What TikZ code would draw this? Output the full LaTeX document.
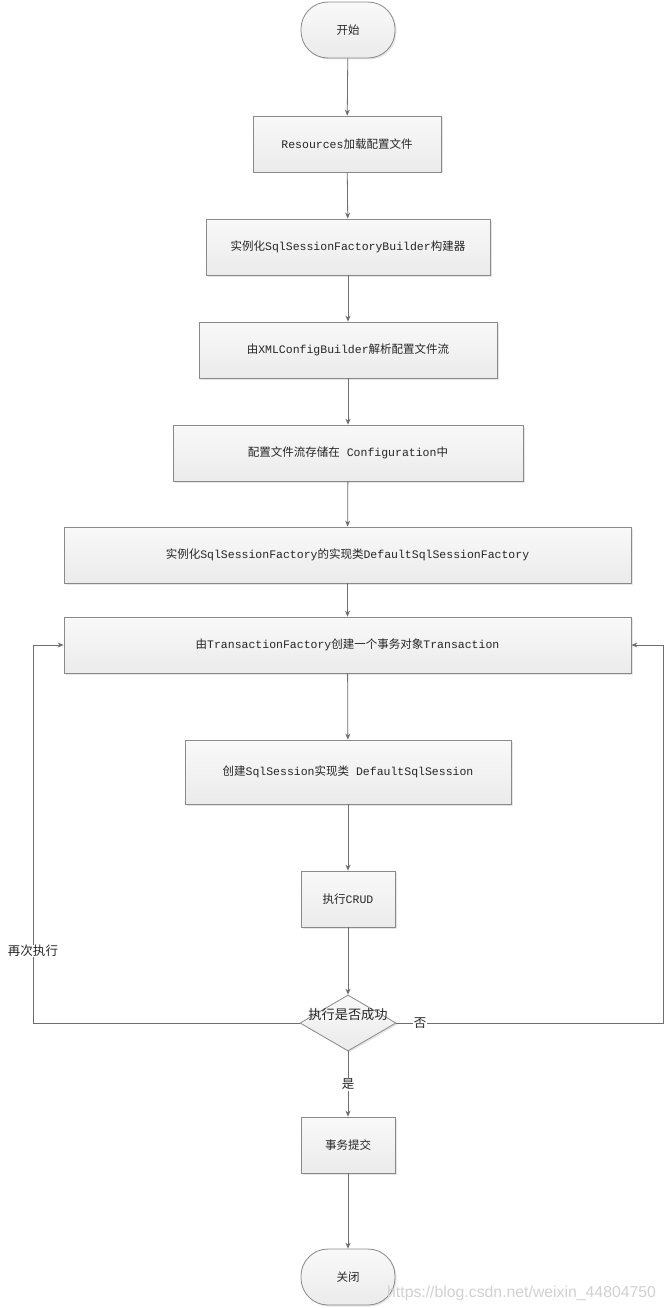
\documentclass[tikz,border=0pt]{standalone}
\usepackage{fontspec}
\setmainfont{Liberation Mono}
\newfontfamily\cjk{Noto Sans CJK SC}
\newfontfamily\wmfont{Liberation Sans}
\newcommand{\zh}[1]{{\cjk #1}}
\usetikzlibrary{arrows.meta,shapes.geometric,shadows}
\definecolor{linec}{HTML}{6E6E6E}
\definecolor{borderc}{HTML}{8A8A8A}
\definecolor{topc}{HTML}{F9F9F9}
\definecolor{botc}{HTML}{EBEBEB}
\tikzset{
  box/.style={draw=borderc, line width=0.8pt, top color=topc, bottom color=botc,
    inner sep=0pt, font=\fontsize{11.5}{13}\selectfont, text=black!85,
    drop shadow={shadow xshift=1.5pt, shadow yshift=-1.5pt, opacity=0.25, fill=black!40}},
  procbox/.style={box, rectangle},
  termbox/.style={box, rectangle, rounded corners=27pt, minimum width=94pt, minimum height=56pt},
  decbox/.style={box, diamond, minimum width=96pt, minimum height=56pt, aspect=1.7},
  conn/.style={draw=linec, line width=0.8pt, -{Stealth[length=6pt,width=5pt]}},
  plain/.style={draw=linec, line width=0.8pt},
  lbl/.style={font=\fontsize{12.5}{14}\selectfont, text=black!85, fill=white, inner sep=1pt}
}
\begin{document}
\begin{tikzpicture}[x=1pt,y=-1pt]
\useasboundingbox[fill=white] (0,0) rectangle (667,1308);

\node[termbox] (start) at (348,30) {\zh{开始}};
\node[procbox, minimum width=188pt, minimum height=56pt] (b1) at (347,144) {Resources\zh{加载配置文件}};
\node[procbox, minimum width=284pt, minimum height=56pt] (b2) at (348,247) {\zh{实例化}SqlSessionFactoryBuilder\zh{构建器}};
\node[procbox, minimum width=298pt, minimum height=56pt] (b3) at (348,350) {\zh{由}XMLConfigBuilder\zh{解析配置文件流}};
\node[procbox, minimum width=350pt, minimum height=56pt] (b4) at (348,453) {\zh{配置文件流存储在} Configuration\zh{中}};
\node[procbox, minimum width=567pt, minimum height=56pt] (b5) at (347.5,555) {\zh{实例化}SqlSessionFactory\zh{的实现类}DefaultSqlSessionFactory};
\node[procbox, minimum width=567pt, minimum height=56pt] (b6) at (347.5,645) {\zh{由}TransactionFactory\zh{创建一个事务对象}Transaction};
\node[procbox, minimum width=326pt, minimum height=64pt] (b7) at (348,772) {\zh{创建}SqlSession\zh{实现类} DefaultSqlSession};
\node[procbox, minimum width=94pt, minimum height=56pt] (b8) at (348,899) {\zh{执行}CRUD};
\node[decbox] (dec) at (348,1023) {};
\node[font=\fontsize{13.2}{15}\selectfont, text=black!85, inner sep=0pt] (dect) at (348,1015) {\zh{执行是否成功}};
\node[procbox, minimum width=94pt, minimum height=56pt] (b9) at (348,1145) {\zh{事务提交}};
\node[termbox] (end) at (348,1277) {\zh{关闭}};

\draw[conn] (start) -- (b1);
\draw[conn] (b1) -- (b2);
\draw[conn] (b2) -- (b3);
\draw[conn] (b3) -- (b4);
\draw[conn] (b4) -- (b5);
\draw[conn] (b5) -- (b6);
\draw[conn] (b6) -- (b7);
\draw[conn] (b7) -- (b8);
\draw[conn] (b8) -- (dec);
\draw[conn] (dec) -- node[lbl, pos=0.5] (yes) {\zh{是}} (b9);
\draw[conn] (b9) -- (end);

\coordinate (lc1) at (33,1023);
\coordinate (lc2) at (33,645);
\coordinate (rc1) at (663,1023);
\coordinate (rc2) at (663,645);
\draw[conn] (dec.west) -- (lc1) -- node[lbl, pos=0.19, inner sep=0pt] (again) {\zh{再次执行}} (lc2) -- (b6.west);
\draw[conn] (dec.east) -- node[lbl, pos=0.06, anchor=west, inner sep=1pt] (no) {\zh{否}} (rc1) -- (rc2) -- (b6.east);

\node[anchor=base west, font=\wmfont\fontsize{15.8}{17}\selectfont, text=black!18, inner sep=0pt] (wm) at (387,1297) {https://blog.csdn.net/weixin\_44804750};
\end{tikzpicture}
\end{document}
